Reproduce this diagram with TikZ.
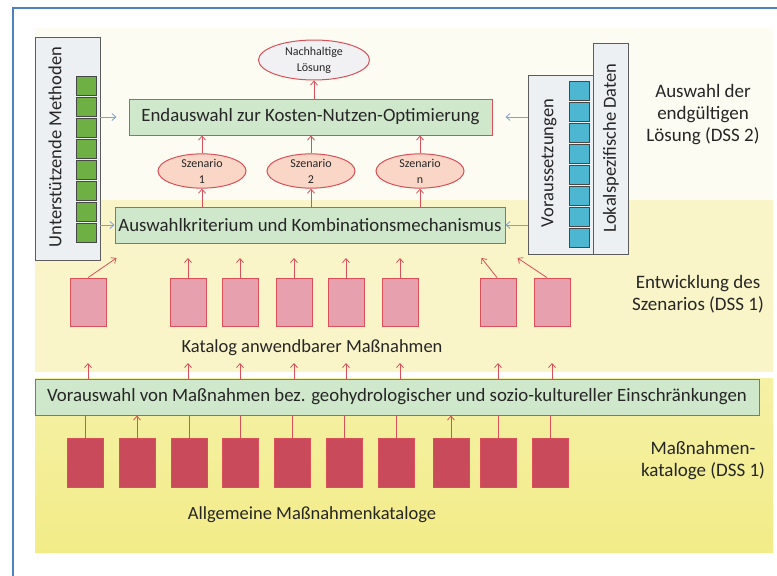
\documentclass[tikz,border=0pt]{standalone}
\usepackage{fontspec}
\setmainfont{Carlito}
\usepackage{tikz}
\usetikzlibrary{shapes.geometric, arrows.meta, positioning, calc}
\definecolor{FrameBlue}{HTML}{4F81BD}
\definecolor{BoxRed}{HTML}{D9505A}
\definecolor{PaleGreen}{HTML}{CFE7CB}
\definecolor{Peach}{HTML}{F9D6C6}
\definecolor{PaleCloud}{HTML}{F1F1F4}
\definecolor{SoftPink}{HTML}{E6A0AE}
\definecolor{DeepRose}{HTML}{C94B5B}
\definecolor{LeafGreen}{HTML}{6EB043}
\definecolor{SkyCyan}{HTML}{4DB7D1}
\definecolor{PanelGray}{HTML}{EDF0F3}
\definecolor{Charcoal}{HTML}{262626}
\definecolor{ArrowBlue}{HTML}{7F9FD0}
\definecolor{YellowTop}{HTML}{FDFCF2}
\definecolor{YellowMid}{HTML}{FAF5C8}
\definecolor{YellowLow}{HTML}{F2EC88}
\tikzset{
    stage/.style={rectangle, draw=BoxRed, line width=1pt, fill=PaleGreen,
                  inner sep=0pt, text=Charcoal, font=\fontsize{18.8}{20}\selectfont},
    scenario/.style={ellipse, draw=BoxRed, line width=1pt, fill=Peach,
                     minimum width=88pt, minimum height=34pt, inner sep=0pt,
                     align=center, text=Charcoal, font=\fontsize{12}{16}\selectfont},
    measure/.style={rectangle, draw=BoxRed, line width=0.8pt, fill=SoftPink,
                    minimum width=36pt, minimum height=48pt, inner sep=0pt},
    catalog/.style={measure, fill=DeepRose, minimum height=49pt},
    panel/.style={rectangle, draw=Charcoal!75, line width=0.8pt, fill=PanelGray, inner sep=0pt},
    cell/.style={rectangle, draw=Charcoal!85, line width=0.8pt,
                 minimum width=20pt, minimum height=19pt, inner sep=0pt},
    paneltext/.style={rotate=90, text=Charcoal, font=\fontsize{18.5}{20}\selectfont},
    redarrow/.style={-{Straight Barb[length=4pt,width=7pt]}, BoxRed, line width=0.8pt},
    redline/.style={BoxRed, line width=0.8pt},
    bluearrow/.style={-{Straight Barb[length=4pt,width=7pt]}, ArrowBlue, line width=0.8pt},
    sidelabel/.style={align=center, text=Charcoal, font=\fontsize{19}{22}\selectfont},
    caption/.style={text=Charcoal, font=\fontsize{18.5}{20}\selectfont}
}

\begin{document}
\begin{tikzpicture}[x=1pt, y=-1pt]
    \useasboundingbox (0,0) rectangle (777,576);

    % Background bands and frame
    \fill[YellowTop] (35,28) rectangle (773,200);
    \fill[YellowMid] (35,200) rectangle (773,372);
    \shade[top color=YellowLow!75!white, bottom color=YellowLow] (35,378) rectangle (773,552);
    \draw[FrameBlue, line width=1.2pt] (13,576) -- (13,8) -- (777,8);

    % Side panels
    \node[panel, minimum width=65pt, minimum height=223pt] (methods) at (67.5,148.5) {};
    \node[paneltext] (methodstext) at (55,147) {Unterstützende Methoden};
    \foreach \i in {0,...,7}
        \node[cell, fill=LeafGreen] (m\i) at (86.5,85.5+21*\i) {};

    \node[panel, minimum width=65pt, minimum height=179pt] (prereq) at (560.5,164.5) {};
    \node[panel, minimum width=35pt, minimum height=211pt] (local) at (610.5,148.5) {};
    \node[paneltext] (prereqtext) at (549,163) {Voraussetzungen};
    \node[paneltext] (localtext) at (611,148) {Lokalspezifische Daten};
    \foreach \i in {0,...,7}
        \node[cell, fill=SkyCyan] (v\i) at (579,90.5+21*\i) {};

    % Upper stage: scenarios and final choice
    \node[ellipse, draw=BoxRed, line width=1pt, fill=PaleCloud, minimum width=111pt,
          minimum height=40pt, inner sep=0pt, align=center, text=Charcoal,
          font=\fontsize{12}{16}\selectfont] (goal) at (314,60) {Nachhaltige\\Lösung};
    \node[stage, minimum width=363pt, minimum height=36pt] (final) at (310.5,117)
        {Endauswahl zur Kosten-Nutzen-Optimierung};
    \node[stage, minimum width=390pt, minimum height=36pt] (crit) at (310,225)
        {Auswahlkriterium und Kombinationsmechanismus};
    \node[scenario] (sz1) at (202,171) {Szenario\\1};
    \node[scenario] (sz2) at (311,171) {Szenario\\2};
    \node[scenario] (szn) at (420,171) {Szenario\\n};

    \draw[redarrow] (final.north -| goal) -- (goal.south);
    \foreach \s in {sz1,sz2,szn} {
        \draw[redarrow] (crit.north -| \s) -- (\s.south);
        \draw[redarrow] (\s.north) -- (\s |- final.south);
    }
    \draw[bluearrow] (methods.east |- final) -- ([xshift=-12pt]final.west);
    \draw[bluearrow] (methods.east |- crit) -- (crit.west);
    \draw[bluearrow] (prereq.west |- final) -- ([xshift=13pt]final.east);
    \draw[bluearrow] (prereq.west |- crit) -- (crit.east);

    % Middle stage: applicable measures
    \foreach \x [count=\i] in {88,188,240,294,346,400,498,552}
        \node[measure] (p\i) at (\x,302) {};
    \coordinate (critgap) at (310,258);
    \draw[redarrow] (p1.north) -- ([xshift=2pt]crit.south west |- critgap);
    \foreach \i in {2,...,6}
        \draw[redarrow] (p\i.north) -- (p\i |- critgap);
    \draw[redarrow] ([xshift=-1pt]p7.north) -- ([xshift=-24pt]crit.south east |- critgap);
    \draw[redarrow] ([xshift=-5pt]p8.north) -- ([xshift=12pt]crit.south east |- critgap);
    \node[caption] (katalog) at (312,348) {Katalog anwendbarer Maßnahmen};

    % Lower stage: general catalogues
    \node[stage, minimum width=724pt, minimum height=36pt] (pre) at (397,397)
        {Vorauswahl von Maßnahmen bez. geohydrologischer und sozio-kultureller Einschränkungen};
    \coordinate (pregap) at (310,363);
    \foreach \i in {1,...,8}
        \draw[redarrow] (pre.north -| p\i) -- (p\i |- pregap);
    \foreach \x [count=\i] in {85,137,189,240,292,344,396,451,498,550}
        \node[catalog] (c\i) at (\x,462.5) {};
    \foreach \i in {1,3,4,5,6,7,9,10}
        \draw[redline] (c\i.north) -- (c\i |- pre.south);
    \foreach \i in {2,8}
        \draw[redarrow] (c\i.north) -- (c\i |- pre.south);
    \node[caption] (general) at (312,515) {Allgemeine Maßnahmenkataloge};

    % Stage labels
    \node[sidelabel] (dss2) at (703,115) {Auswahl der\\endgültigen\\Lösung (DSS 2)};
    \node[sidelabel] (dss1a) at (698,294) {Entwicklung des\\Szenarios (DSS 1)};
    \node[sidelabel] (dss1b) at (703,461) {Maßnahmen-\\kataloge (DSS 1)};
\end{tikzpicture}
\end{document}
